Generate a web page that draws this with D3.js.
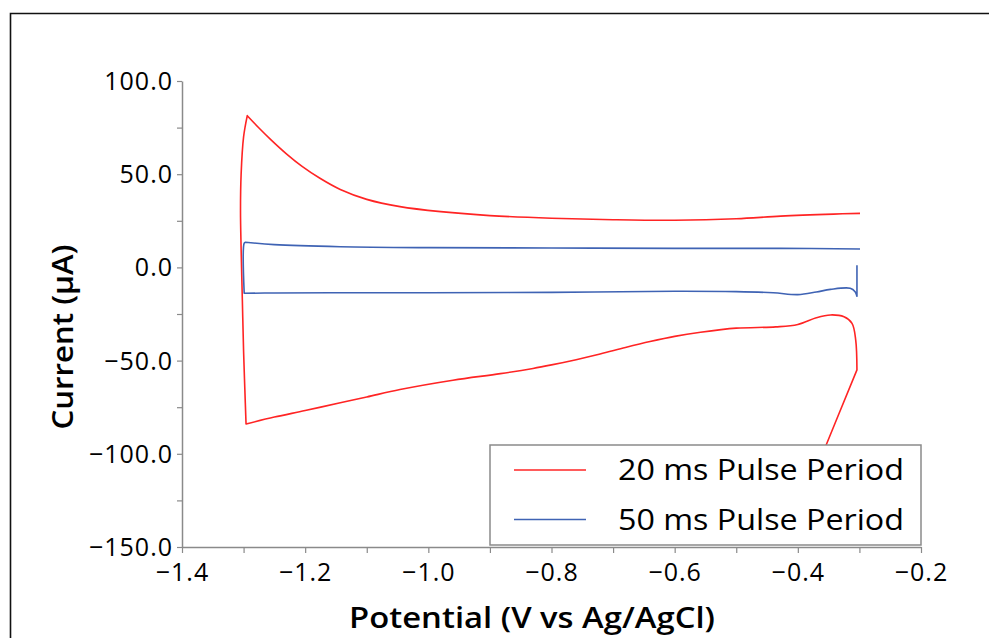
<!DOCTYPE html>
<html>
<head>
<meta charset="utf-8">
<script src="https://cdn.jsdelivr.net/npm/d3@7/dist/d3.min.js"></script>
<style>
  html, body { margin: 0; padding: 0; background: #fff; }
  svg { display: block; }
  text { font-family: "Open Sans", "Noto Sans", sans-serif; fill: #000; }
</style>
</head>
<body>
<svg id="chart" width="989" height="638"></svg>
<script>
// Cyclic voltammograms: potential (V vs Ag/AgCl) and current (µA), traced in scan order.
// A repeated point marks a sharp vertex where the scan reverses.
const potential20 = [-0.299, -0.342, -0.428, -0.50, -0.60, -0.70, -0.80, -0.90, -0.98, -1.046, -1.10, -1.143, -1.176, -1.205, -1.230, -1.255, -1.275, -1.294, -1.294,
  -1.300, -1.304, -1.305, -1.304, -1.302, -1.300, -1.298, -1.296, -1.296,
  -1.25, -1.20, -1.143, -1.10, -1.046, -0.96, -0.883, -0.83, -0.80, -0.76, -0.721, -0.68, -0.640, -0.60, -0.558, -0.50, -0.436, -0.40, -0.37, -0.347, -0.325, -0.312, -0.306, -0.304, -0.304, -0.354, -0.40];
const current20 = [29.0, 28.6, 27.5, 26.1, 25.3, 25.6, 26.4, 27.8, 29.9, 32.6, 36.5, 41.8, 47.8, 54.2, 60.8, 68.3, 74.8, 81.4, 81.4,
  70, 50, 30.8, 10, -17.5, -45, -65, -84, -84,
  -80.3, -76.8, -72.6, -69.5, -65.5, -60.5, -57, -54.2, -52.3, -49.5, -46.5, -43, -39.8, -37.0, -34.8, -32.6, -31.9, -30.6, -27, -25.5, -26.5, -30, -39, -55, -55, -95.3, -133];

const potential50 = [-0.299, -0.428, -0.60, -0.80, -1.0, -1.143, -1.25, -1.297, -1.297,
  -1.299, -1.299, -1.299,
  -1.25, -1.143, -1.0, -0.80, -0.60, -0.50, -0.44, -0.40, -0.37, -0.347, -0.315, -0.307, -0.304, -0.304,
  -0.304];
const current50 = [9.9, 10.2, 10.2, 10.4, 10.6, 11.1, 12.2, 13.5, 13.5,
  13.0, -13.9, -13.9,
  -13.7, -13.6, -13.6, -13.4, -12.8, -13.0, -13.6, -14.6, -13.2, -11.8, -11.2, -13.0, -15.5, -15.5,
  1.1];

const seriesNames = ["20 ms Pulse Period", "50 ms Pulse Period"];
const seriesColors = ["#ff2424", "#3f63b4"];

const xTicks = [-1.4, -1.3, -1.2, -1.1, -1.0, -0.9, -0.8, -0.7, -0.6, -0.5, -0.4, -0.3, -0.2];
const xLabelled = [-1.4, -1.2, -1.0, -0.8, -0.6, -0.4, -0.2];
const yTicks = [-150, -125, -100, -75, -50, -25, 0, 25, 50, 75, 100];
const yLabelled = [-150, -100, -50, 0, 50, 100];

const xTitle = "Potential (V vs Ag/AgCl)";
const yTitle = "Current (\u03bcA)";

const svg = d3.select("#chart");
svg.append("rect").attr("width", 989).attr("height", 638).attr("fill", "#fff");

// outer figure frame (continues past the right and bottom edges)
svg.append("path")
  .attr("d", "M10.5,700 L10.5,13.5 L1000,13.5")
  .attr("fill", "none").attr("stroke", "#111").attr("stroke-width", 1.6);

const x = d3.scaleLinear().domain([-1.4, -0.2]).range([182, 921]);
const y = d3.scaleLinear().domain([-150, 100]).range([547, 81]);

const near = (v, arr) => arr.some(a => Math.abs(a - v) < 1e-9);
const axisColor = "#8a8a8a";

const xAxis = svg.append("g")
  .attr("transform", "translate(0,547)")
  .call(d3.axisBottom(x).tickValues(xTicks).tickSize(6).tickSizeOuter(0)
    .tickFormat(d => near(d, xLabelled) ? d3.format(".1f")(d) : ""));
const yAxis = svg.append("g")
  .attr("transform", "translate(182,0)")
  .call(d3.axisLeft(y).tickValues(yTicks).tickSize(5).tickSizeOuter(0)
    .tickFormat(d => near(d, yLabelled) ? d3.format(".1f")(d) : ""));

[xAxis, yAxis].forEach(g => {
  g.select(".domain").attr("stroke", axisColor).attr("stroke-width", 1.5);
  g.selectAll(".tick line").attr("stroke", axisColor).attr("stroke-width", 1.2);
  g.selectAll(".tick text")
    .attr("fill", "#111")
    .style("font-family", "\"Open Sans\", sans-serif")
    .style("font-size", "25px")
    .style("letter-spacing", "1px");
});
xAxis.selectAll(".tick text").attr("dy", "0.95em").attr("y", 10);
yAxis.selectAll(".tick text").attr("x", -9).attr("dy", "0.34em");

// curves
const line = d3.line()
  .x(d => x(d[0])).y(d => y(d[1]))
  .curve(d3.curveCatmullRom.alpha(0.5));
const series = [
  d3.zip(potential20, current20),
  d3.zip(potential50, current50)
];
series.forEach((pts, i) => {
  svg.append("path")
    .datum(pts)
    .attr("d", line)
    .attr("fill", "none")
    .attr("stroke", seriesColors[i])
    .attr("stroke-width", 1.6)
    .attr("stroke-linejoin", "round");
});

// legend
const legend = svg.append("g");
legend.append("rect")
  .attr("x", 490).attr("y", 445).attr("width", 431).attr("height", 100)
  .attr("fill", "#fff").attr("stroke", "#8a8a8a").attr("stroke-width", 1.5);
seriesNames.forEach((name, i) => {
  const cy = 470 + i * 49.5;
  legend.append("line")
    .attr("x1", 514).attr("x2", 586).attr("y1", cy).attr("y2", cy)
    .attr("stroke", seriesColors[i]).attr("stroke-width", 1.6);
  legend.append("text")
    .attr("x", 618).attr("y", cy + 10)
    .attr("textLength", 286).attr("lengthAdjust", "spacingAndGlyphs")
    .style("font-size", "30px")
    .text(name);
});

// axis titles
svg.append("text")
  .attr("x", 532).attr("y", 628)
  .attr("text-anchor", "middle")
  .attr("textLength", 366).attr("lengthAdjust", "spacingAndGlyphs")
  .style("font-size", "29px").style("font-weight", 600)
  .text(xTitle);
svg.append("text")
  .attr("transform", "translate(73,337) rotate(-90)")
  .attr("text-anchor", "middle")
  .attr("textLength", 185).attr("lengthAdjust", "spacingAndGlyphs")
  .style("font-size", "29px").style("font-weight", 600)
  .text(yTitle);
</script>
</body>
</html>
